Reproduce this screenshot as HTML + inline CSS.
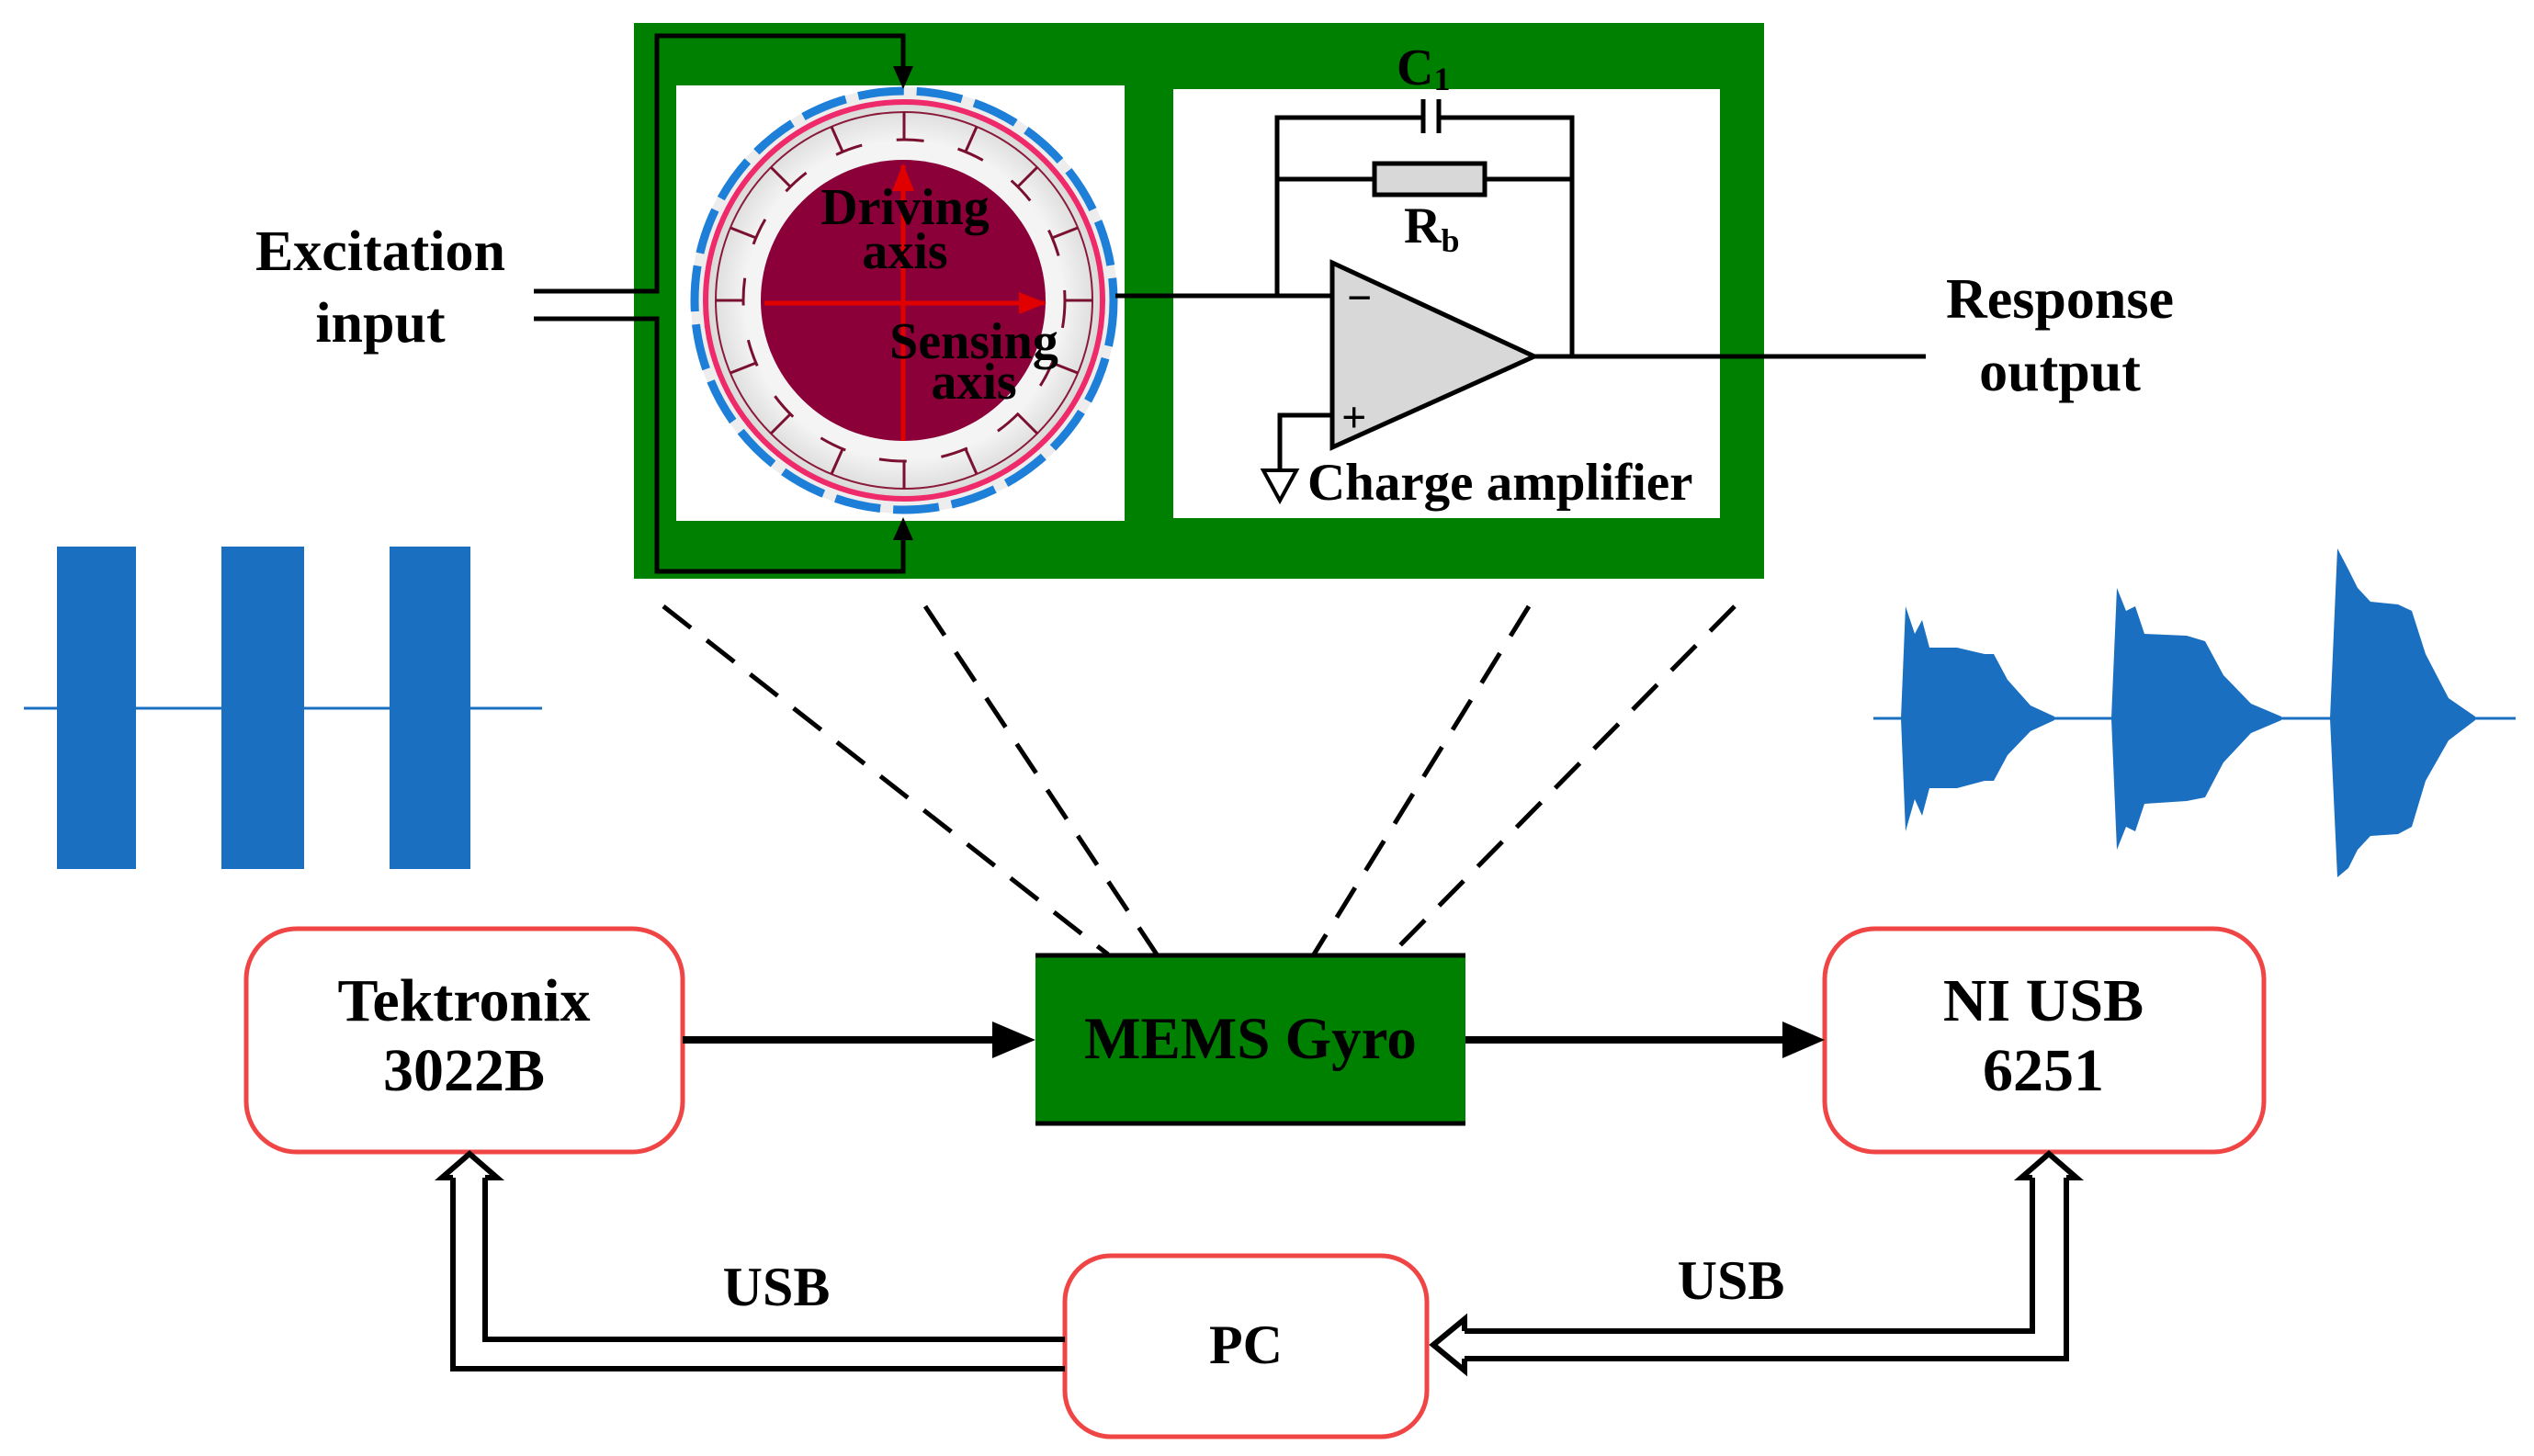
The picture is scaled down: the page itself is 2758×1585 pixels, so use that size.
<!DOCTYPE html>
<html><head><meta charset="utf-8"><style>
html,body{margin:0;padding:0;background:#fff;}
svg{display:block;}
text{font-family:"Liberation Serif",serif;font-weight:bold;fill:#000;}
</style></head><body>
<svg width="2758" height="1585" viewBox="0 0 2758 1585" xmlns="http://www.w3.org/2000/svg">
<defs>
<marker id="ra" markerWidth="30" markerHeight="24" refX="28" refY="12" orient="auto" markerUnits="userSpaceOnUse"><path d="M0,0 L30,12 L0,24 z" fill="#e00000"/></marker>
<radialGradient id="rg" cx="50%" cy="50%" r="50%"><stop offset="80%" stop-color="#f4f4f4"/><stop offset="100%" stop-color="#d8d8d8"/></radialGradient>
</defs>

<rect x="690" y="25" width="1230" height="605" fill="#008000"/>
<rect x="736" y="93" width="488" height="474" fill="#fff"/>
<rect x="1277" y="97" width="595" height="467" fill="#fff"/>

<circle cx="984" cy="327" r="232" fill="#e6e6e6" opacity="0.7"/>
<circle cx="984" cy="327" r="228" fill="none" stroke="#1e7fd8" stroke-width="9" stroke-dasharray="50 14"/>
<circle cx="984" cy="327" r="216" fill="url(#rg)" stroke="#ee2a6a" stroke-width="6"/>
<circle cx="984" cy="327" r="205" fill="none" stroke="#8a1a3a" stroke-width="2"/>
<circle cx="984" cy="327" r="175" fill="none" stroke="#7a1030" stroke-width="3" stroke-dasharray="30 38"/>
<g stroke="#7a1030" stroke-width="3">
<line x1="984" y1="122" x2="984" y2="152"/><line x1="984" y1="502" x2="984" y2="532"/>
<line x1="779" y1="327" x2="809" y2="327"/><line x1="1159" y1="327" x2="1189" y2="327"/>
<line x1="839" y1="182" x2="860" y2="203"/><line x1="1129" y1="182" x2="1108" y2="203"/>
<line x1="839" y1="472" x2="860" y2="451"/><line x1="1129" y1="472" x2="1108" y2="451"/>
<line x1="905" y1="138" x2="917" y2="165"/><line x1="1063" y1="138" x2="1051" y2="165"/>
<line x1="905" y1="516" x2="917" y2="489"/><line x1="1063" y1="516" x2="1051" y2="489"/>
<line x1="795" y1="248" x2="823" y2="259"/><line x1="1173" y1="248" x2="1145" y2="259"/>
<line x1="795" y1="406" x2="823" y2="395"/><line x1="1173" y1="406" x2="1145" y2="395"/>
</g>
<ellipse cx="983" cy="327" rx="155" ry="153" fill="#8b0038"/>
<line x1="983" y1="480" x2="983" y2="180" stroke="#e00000" stroke-width="5" marker-end="url(#ra)"/>
<line x1="832" y1="330" x2="1137" y2="330" stroke="#e00000" stroke-width="5" marker-end="url(#ra)"/>
<text x="985" y="244" font-size="56" text-anchor="middle">Driving</text>
<text x="985" y="292" font-size="56" text-anchor="middle">axis</text>
<text x="1060" y="390" font-size="56" text-anchor="middle">Sensing</text>
<text x="1060" y="434" font-size="56" text-anchor="middle">axis</text>

<g stroke="#000" stroke-width="5" fill="none">
<polyline points="581,317 715,317 715,39 983,39 983,80"/>
<polyline points="581,347 715,347 715,622 983,622 983,580"/>
</g>
<path d="M972,72 L994,72 L983,97 z" fill="#000"/>
<path d="M972,588 L994,588 L983,563 z" fill="#000"/>

<g stroke="#000" stroke-width="5" fill="none">
<line x1="1214" y1="322" x2="1450" y2="322"/>
<polyline points="1390,322 1390,128 1549,128"/>
<polyline points="1566,128 1711,128 1711,388"/>
<line x1="1390" y1="195" x2="1496" y2="195"/>
<line x1="1616" y1="195" x2="1711" y2="195"/>
<line x1="1549" y1="108" x2="1549" y2="145"/>
<line x1="1566" y1="108" x2="1566" y2="145"/>
<line x1="1670" y1="388" x2="2096" y2="388"/>
<polyline points="1450,452 1393,452 1393,512"/>
</g>
<rect x="1496" y="178" width="120" height="34" fill="#d8d8d8" stroke="#000" stroke-width="5"/>
<path d="M1450,286 L1670,388 L1450,487 z" fill="#d8d8d8" stroke="#000" stroke-width="5"/>
<path d="M1375,512 L1411,512 L1393,545 z" fill="#fff" stroke="#000" stroke-width="4"/>
<text x="1466" y="340" font-size="48">−</text>
<text x="1460" y="470" font-size="48">+</text>
<text x="1520" y="92" font-size="56">C<tspan font-size="36" dy="6">1</tspan></text>
<text x="1528" y="264" font-size="56">R<tspan font-size="36" dy="10">b</tspan></text>
<text x="1423" y="544" font-size="57">Charge amplifier</text>

<text x="414" y="294" font-size="62" text-anchor="middle">Excitation</text>
<text x="414" y="372" font-size="62" text-anchor="middle">input</text>
<text x="2242" y="346" font-size="62" text-anchor="middle">Response</text>
<text x="2242" y="425" font-size="62" text-anchor="middle">output</text>

<g stroke="#000" stroke-width="5" stroke-dasharray="38 22">
<line x1="722" y1="660" x2="1206" y2="1039"/>
<line x1="1007" y1="660" x2="1259" y2="1039"/>
<line x1="1664" y1="660" x2="1430" y2="1039"/>
<line x1="1888" y1="660" x2="1514" y2="1039"/>
</g>

<line x1="26" y1="771" x2="590" y2="771" stroke="#1a6fc0" stroke-width="3"/>
<g fill="#1a6fc0">
<rect x="62" y="595" width="86" height="351"/>
<rect x="241" y="595" width="90" height="351"/>
<rect x="424" y="595" width="88" height="351"/>
</g>

<line x1="2039" y1="782" x2="2738" y2="782" stroke="#1a6fc0" stroke-width="3"/>
<g fill="#1a6fc0">
<path d="M2069,782 L2074,660 L2084,690 L2092,675 L2100,705 L2130,705 L2160,712 L2170,712 L2185,740 L2210,768 L2236,780 L2236,784 L2210,796 L2185,822 L2170,850 L2160,850 L2130,858 L2100,858 L2092,888 L2084,870 L2074,905 z"/>
<path d="M2298,782 L2304,640 L2314,665 L2324,660 L2334,690 L2380,692 L2400,698 L2420,735 L2450,766 L2483,780 L2483,784 L2450,798 L2420,830 L2400,868 L2380,872 L2334,875 L2324,905 L2314,900 L2304,925 z"/>
<path d="M2536,782 L2544,597 L2556,620 L2566,640 L2580,655 L2610,658 L2625,665 L2640,712 L2665,760 L2694,780 L2694,784 L2665,806 L2640,850 L2625,900 L2610,908 L2580,910 L2566,925 L2556,945 L2544,955 z"/>
</g>

<rect x="268" y="1011" width="475" height="243" rx="55" fill="#fff" stroke="#f04545" stroke-width="5"/>
<rect x="1986" y="1011" width="478" height="243" rx="55" fill="#fff" stroke="#f04545" stroke-width="5"/>
<rect x="1159" y="1367" width="394" height="197" rx="50" fill="#fff" stroke="#f04545" stroke-width="5"/>
<rect x="1127" y="1039" width="468" height="185" fill="#008000"/>
<line x1="1127" y1="1040" x2="1595" y2="1040" stroke="#000" stroke-width="5"/>
<line x1="1127" y1="1223" x2="1595" y2="1223" stroke="#000" stroke-width="5"/>

<text x="505" y="1111" font-size="66" text-anchor="middle">Tektronix</text>
<text x="505" y="1187" font-size="66" text-anchor="middle">3022B</text>
<text x="1361" y="1152" font-size="65" text-anchor="middle">MEMS Gyro</text>
<text x="2224" y="1111" font-size="66" text-anchor="middle">NI USB</text>
<text x="2224" y="1187" font-size="66" text-anchor="middle">6251</text>
<text x="1356" y="1484" font-size="60" text-anchor="middle">PC</text>
<text x="845" y="1421" font-size="60" text-anchor="middle">USB</text>
<text x="1884" y="1414" font-size="60" text-anchor="middle">USB</text>

<line x1="743" y1="1132" x2="1090" y2="1132" stroke="#000" stroke-width="8"/>
<path d="M1080,1112 L1127,1132 L1080,1152 z" fill="#000"/>
<line x1="1595" y1="1132" x2="1950" y2="1132" stroke="#000" stroke-width="8"/>
<path d="M1940,1112 L1986,1132 L1940,1152 z" fill="#000"/>

<g stroke="#000" stroke-width="6" fill="none" stroke-linejoin="miter">
<polyline points="1159,1458 528,1458 528,1282"/>
<polyline points="1159,1490 493,1490 493,1282"/>
<polyline points="493,1282 481,1282 511,1256 541,1282 528,1282"/>
<polyline points="1594,1449 2212,1449 2212,1282"/>
<polyline points="1594,1479 2249,1479 2249,1282"/>
<polyline points="2212,1282 2200,1282 2230,1256 2260,1282 2249,1282"/>
<polyline points="1594,1449 1594,1436 1560,1464 1594,1492 1594,1479"/>
</g>
</svg>
</body></html>
